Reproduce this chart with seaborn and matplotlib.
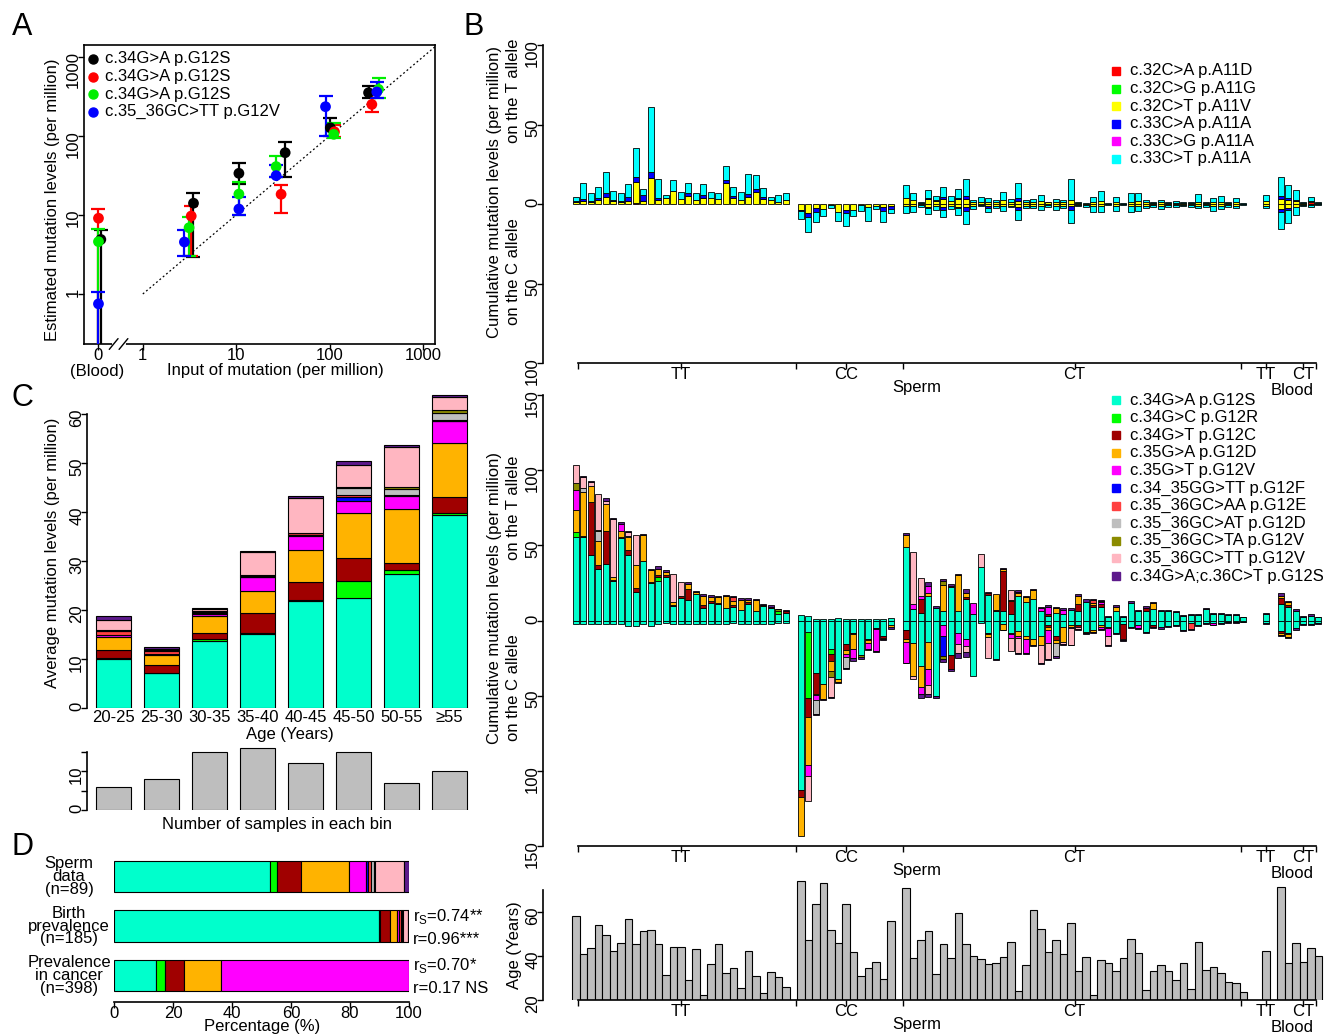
import numpy as np
import pandas as pd
import seaborn as sns
import matplotlib.pyplot as plt
from matplotlib.lines import Line2D
from matplotlib.ticker import NullLocator

# ---------------- Panel A: spike-in validation ----------------
a_labels = ["c.34G>A p.G12S", "c.34G>A p.G12S", "c.34G>A p.G12S", "c.35_36GC>TT p.G12V"]
a_colors = ["black", "red", "#00EE00", "blue"]
# input 0 = unspiked blood DNA
a_input = [
    [0, 3.49, 10.7, 33.5, 102, 262],
    [0, 3.3, 30.3, 113, 284],
    [0, 3.13, 10.7, 26.8, 111, 335],
    [0, 2.79, 10.7, 26.8, 90.6, 321],
]
a_est = [
    [4.9, 14.1, 33.7, 61.5, 127, 353],
    [9.1, 9.7, 18.3, 113, 251],
    [4.6, 6.9, 18.4, 41, 105, 390],
    [0.75, 4.55, 11.9, 31.5, 235, 361],
]
a_low = [
    [0.01, 2.97, 25, 30.6, 100, 300],
    [0.01, 3.0, 10.5, 98, 199],
    [0.01, 3.0, 10, 30, 95, 300],
    [0.01, 3.0, 10, 30, 100, 300],
]
a_high = [
    [6.5, 18.8, 45, 85, 170, 425],
    [11.8, 13, 24, 138, 340],
    [6.7, 9.4, 26, 56, 147, 550],
    [1.07, 6.45, 16.7, 43, 320, 480],
]

# ---------------- mutation classes ----------------
k12_keys = ["S", "R", "C", "D", "V", "F", "E", "AT", "TA", "TT", "SS"]
k12_labels = ["c.34G>A p.G12S", "c.34G>C p.G12R", "c.34G>T p.G12C", "c.35G>A p.G12D",
              "c.35G>T p.G12V", "c.34_35GG>TT p.G12F", "c.35_36GC>AA p.G12E",
              "c.35_36GC>AT p.G12D", "c.35_36GC>TA p.G12V", "c.35_36GC>TT p.G12V",
              "c.34G>A;c.36C>T p.G12S"]
k12_colors = ["#00FFCC", "#00FF00", "#A00000", "#FFB300", "#FF00FF", "#0000FF",
              "#FF4040", "#BEBEBE", "#8B8B00", "#FFB6C1", "#5D1A8B"]

k11_labels = ["c.32C>A p.A11D", "c.32C>G p.A11G", "c.32C>T p.A11V",
              "c.33C>A p.A11A", "c.33C>G p.A11A", "c.33C>T p.A11A"]
k11_colors = ["#FF0000", "#00FF00", "#FFFF00", "#0000FF", "#FF00FF", "#00FFFF"]
# codon 11 tuples: (c.32C>A, c.32C>T, c.33C>A, c.33C>T)
k11_cols = ["32A", "32T", "33A", "33T"]
k11_cols_colors = ["#FF0000", "#FFFF00", "#0000FF", "#00FFFF"]

# ---------------- Panel C / D ----------------
c_bins = ["20-25", "25-30", "30-35", "35-40", "40-45", "45-50", "50-55", "≥55"]
c_levels = [
    dict(S=10.0, R=0.15, C=1.75, D=2.6, V=0.3, F=0.05, E=0.8, AT=0.2, TA=0.1, TT=2.1, SS=0.75),
    dict(S=7.1, R=0.1, C=1.6, D=2.0, V=0.2, E=0.7, AT=0.1, TA=0.05, TT=0.2, SS=0.4),
    dict(S=13.7, R=0.3, C=1.3, D=3.4, V=0.4, F=0.05, E=0.2, AT=0.3, TA=0.1, TT=0.4, SS=0.2),
    dict(S=15.2, R=0.15, C=4.0, D=4.5, V=2.9, F=0.05, E=0.1, AT=0.15, TA=0.1, TT=4.6, SS=0.3),
    dict(S=21.9, R=0.1, C=3.8, D=6.4, V=3.0, F=0.05, E=0.4, AT=0.1, TA=0.05, TT=7.0, SS=0.4),
    dict(S=22.4, R=3.5, C=4.7, D=9.2, V=2.4, F=0.9, E=0.4, AT=1.4, TA=0.2, TT=4.4, SS=0.9),
    dict(S=27.3, R=0.8, C=1.5, D=11.0, V=2.7, F=0.1, E=0.1, AT=1.2, TA=0.4, TT=8.2, SS=0.3),
    dict(S=39.3, R=0.5, C=3.3, D=11.0, V=4.4, F=0.1, E=0.2, AT=1.4, TA=0.6, TT=2.6, SS=0.4),
]
c_counts = [6, 8, 15, 16, 12, 15, 7, 10]

d_groups = ["Sperm\ndata\n(n=89)", "Birth\nprevalence\n(n=185)", "Prevalence\nin cancer\n(n=398)"]
d_pct = [
    dict(S=52.9, R=2.5, C=8.0, D=16.4, V=5.7, F=0.5, E=1.2, AT=0.8, TA=0.5, TT=9.9, SS=1.6),
    dict(S=90.0, R=0.1, C=3.4, D=2.5, V=0.5, F=0.2, E=0.5, AT=0.3, TA=0.3, TT=2.0, SS=0.2),
    dict(S=14.4, R=3.0, C=6.4, D=12.6, V=63.6),
]
d_stats = [("", ""), (r"r$_\mathregular{S}$=0.74**", "r=0.96***"),
           (r"r$_\mathregular{S}$=0.70*", "r=0.17 NS")]

# ---------------- Panel B: per-sample data ----------------
age_tt = [58.2, 40.8, 43.8, 54.2, 49.4, 42.1, 45.8, 56.7, 45.5, 51.5, 51.7, 45.6, 31.4, 44.2,
          43.9, 29.2, 43.3, 22.1, 36.5, 45.3, 32.1, 34.7, 25.3, 42.4, 30.9, 23.0, 32.9, 30.3, 25.8]
age_cc = [74.2, 47.3, 63.5, 73.3, 51.7, 46.1, 63.5, 41.7, 30.9, 34.5, 37.4, 29.7, 56.1]
age_ct = [71.1, 38.9, 47.3, 51.5, 31.8, 45.6, 38.9, 59.7, 45.3, 40.2, 38.5, 36.5, 37.0, 39.7,
          46.4, 24.2, 36.1, 60.9, 52.1, 42.0, 47.1, 41.1, 55.0, 33.0, 39.5, 22.1, 38.2, 36.7,
          33.3, 38.9, 47.6, 41.5, 24.4, 33.0, 35.8, 33.3, 29.1, 37.0, 25.2, 46.2, 33.6, 35.2,
          32.1, 28.3, 27.9, 23.8]
age_blood = [42.3, 71.5, 36.7, 45.9, 37.4, 43.6, 40.0]  # 1 TT then 6 CT

# codon 12, T allele (up) and C allele (down)
tt12_up = [
    dict(S=55.5, R=3.6, D=14.1, V=13.7, TA=4.5, TT=12.1),
    dict(S=55.5, C=0.5, D=29.8, AT=2.2, TT=7.4, SS=0.8),
    dict(S=43.8, C=35.0, D=10.4, TT=2.8, SS=0.5),
    dict(S=34.5, C=2.7, D=15.5, AT=6.8, TA=0.5, TT=24.1),
    dict(S=37.8, C=21.5, D=18.4, TT=1.5, SS=2.2),
    dict(S=26.1, C=1.0, D=1.9, TT=38.7, SS=0.3),
    dict(S=54.9, C=0.5, D=4.3, V=4.5, SS=1.2),
    dict(S=43.4, C=3.3, D=8.8, AT=0.8, TT=2.3, SS=1.1),
    dict(S=18.8, C=2.9, D=15.5, TT=19.9),
    dict(S=39.8, D=17.3, SS=0.3),
    dict(S=25.0, C=0.8, D=7.6, SS=1.0),
    dict(S=26.5, R=2.3, C=1.7, D=3.8, SS=2.2),
    dict(S=29.0, C=1.0, D=2.5, SS=0.9),
    dict(S=9.5, C=0.5, D=2.2, TT=19.0),
    dict(S=15.0, C=1.6, TT=8.8),
    dict(S=13.9, C=7.1, D=3.6, SS=1.1),
    dict(S=17.3, D=1.6, SS=0.6),
    dict(S=8.4, C=1.6, D=6.6, SS=1.0),
    dict(S=11.7, C=1.1, D=2.9, SS=1.0),
    dict(S=11.1, C=0.8, D=3.6, SS=0.8),
    dict(S=8.4, D=7.8, SS=0.5),
    dict(S=8.8, C=1.8, D=2.7, E=2.4, SS=0.5),
    dict(S=7.3, D=6.6, SS=1.0),
    dict(S=11.3, C=1.0, D=1.6, SS=1.0),
    dict(S=6.6, D=7.3, SS=0.4),
    dict(S=9.5, TA=1.0, SS=0.6),
    dict(S=8.0, C=1.2, SS=0.8),
    dict(S=4.6, R=1.8, TA=1.0, SS=0.5),
    dict(S=5.1, C=1.0, SS=1.2),
]
tt12_down = [2.5, 2.5, 2.5, 2.5, 2.5, 2.5, 2.0, 3.5, 3.7, 2.0, 3.7, 2.0, 1.5, 2.0, 2.0,
             2.0, 2.0, 2.0, 2.0, 2.0, 2.0, 1.5, 2.0, 2.0, 2.0, 2.0, 2.0, 1.5, 1.5]
cc12_up = [3.5, 3.0, 1.0, 1.0, 1.0, 1.5, 1.0, 1.0, 1.0, 1.0, 1.0, 1.0, 1.8]
cc12_down = [
    dict(S=112.8, C=4.5, D=26.3),
    dict(S=7.5, R=43.8, C=12.7, D=32.0, V=7.3, TT=16.7),
    dict(S=34.7, C=14.0, D=1.1, V=3.3, AT=8.9, SS=1.0),
    dict(S=42.0, C=0.5, D=9.5, SS=0.9),
    dict(S=18.8, R=3.3, C=4.9, D=6.6, TA=3.8, TT=13.5, SS=0.5),
    dict(S=38.7, C=0.5, D=1.7, SS=0.8),
    dict(S=15.9, C=4.0, D=2.2, V=2.2, AT=7.1, SS=1.1),
    dict(S=8.2, C=0.5, D=10.5, V=6.0, SS=1.8),
    dict(S=23.2, TA=1.0, SS=1.7),
    dict(S=12.2, C=0.5, D=2.1, V=4.0, SS=1.1),
    dict(S=4.9, C=0.8, V=14.7, SS=0.5),
    dict(S=10.0, C=1.5, D=0.7, SS=0.8),
    dict(S=2.7, D=1.7, SS=1.1),
]
ct12_up = [
    dict(S=49, D=8, SS=1.1), dict(S=7.7, V=3.5, TT=34.4),
    dict(S=5, C=9, D=0.5, V=2, TT=11.5), dict(S=16.6, D=2, V=4.5, SS=2.3),
    dict(S=8.4, SS=1.1), dict(S=6.2, D=17.7, TA=2.2, SS=1.6),
    dict(S=22, C=1, SS=1), dict(S=6, D=24, SS=1),
    dict(S=14, C=1.5, D=3, SS=2.5), dict(S=4, V=7.7),
    dict(S=35.6, TT=8.9), dict(S=17, C=1, SS=0.8),
    dict(S=6, C=1, D=10.3), dict(S=6, C=27, D=1, SS=0.8),
    dict(S=4, C=8.8, D=1, TT=6.8), dict(S=16, D=2, V=1, SS=1),
    dict(S=12, D=3.6, SS=1), dict(S=14, D=6, SS=1),
    dict(S=6, V=2, SS=0.8), dict(S=3, C=1, V=5, SS=1),
    dict(S=5, D=3, SS=0.8), dict(S=4, V=3, SS=1),
    dict(S=7, SS=1), dict(S=6, C=5, D=5.5, SS=0.8),
    dict(S=12.5, SS=1.5), dict(S=9, C=1.5, D=1, E=2, SS=0.5),
    dict(S=9, C=2, V=1, E=1, SS=0.5), dict(S=2, SS=0.9),
    dict(S=6, D=3, SS=1), dict(S=2, SS=0.9),
    dict(S=11.5, SS=1.3), dict(S=6, SS=1.3),
    dict(S=6, C=2.5, SS=1), dict(S=7.5, D=4, SS=0.5),
    dict(S=6, SS=0.9), dict(S=6, SS=0.9),
    dict(S=5.5, SS=0.7), dict(S=3, SS=0.5),
    dict(S=3.5, SS=0.5), dict(S=3.5, SS=0.5),
    dict(S=7.5, SS=0.9), dict(S=4, SS=1),
    dict(S=4, SS=1), dict(S=3.5, SS=0.9),
    dict(S=3.5, SS=0.5), dict(S=2, SS=0.4),
]
ct12_down = [
    dict(S=6, C=6.6, D=1.8, V=13.7, SS=0.5), dict(S=14.8, D=22, TT=2.3),
    dict(S=30, D=14.5, V=4.5, SS=2.5), dict(S=14.4, D=17.7, V=11, TT=6, SS=2),
    dict(S=50, SS=1.8), dict(S=3.3, V=6.7, F=13.7, TA=2.2, SS=1.8),
    dict(S=23, C=9.3, SS=1.1), dict(S=8, V=7.7, TT=6, SS=3),
    dict(S=12, V=5, TT=4, SS=3), dict(S=37),
    dict(S=1.5), dict(S=8, C=1, D=2, TT=13.8),
    dict(S=25.9, SS=0.5), dict(S=2, D=4, SS=0.5),
    dict(S=8, D=1, V=2.5, TT=9), dict(S=7, D=3.5, V=1, TT=10, SS=1),
    dict(S=10, D=2, V=9.6, SS=1), dict(S=12.6, D=3.4, SS=1),
    dict(S=10, D=6, TT=12, SS=1), dict(S=3, C=1, D=2, V=9, TT=10.5, SS=1),
    dict(S=10, C=3, D=1.8, AT=9, SS=1), dict(S=4, D=10, TT=1.5, SS=0.5),
    dict(S=3, D=1, V=1, TT=11, SS=0.4), dict(S=3, C=1, TT=1.5, SS=0.5),
    dict(S=7.5, D=1, SS=0.8), dict(S=6, D=1.5, SS=0.7),
    dict(S=3, D=1, V=1.5, SS=0.5), dict(S=4, D=1, V=5, TT=6.5, SS=0.5),
    dict(S=8, SS=1.3), dict(S=2, C=10, TT=1.2, SS=0.5),
    dict(S=4, SS=0.9), dict(S=3, V=2, SS=0.5),
    dict(S=7.5, SS=1.1), dict(S=3, C=1, SS=0.9),
    dict(S=4.5, SS=1), dict(S=3.5, SS=0.7),
    dict(S=3, SS=0.8), dict(S=6, SS=1),
    dict(S=1.5, E=4, SS=0.5), dict(S=3, SS=0.8),
    dict(S=1.5, SS=0.5), dict(S=1.5, V=1.3, SS=0.5),
    dict(S=1.5, SS=0.5), dict(S=1, SS=0.5),
    dict(S=1, SS=0.5), dict(S=0.8, SS=0.3),
]
blood12_up = [dict(S=4, SS=1), dict(S=11, C=4, D=1.5, SS=1.9), dict(S=9, C=1.5, D=2, SS=0.8),
              dict(S=6.5, SS=1.2), dict(S=2.4, SS=0.5), dict(S=3.2, SS=0.8), dict(S=2, SS=0.4)]
blood12_down = [dict(S=1.5, SS=0.5), dict(S=7, C=1.2, D=1.2, SS=0.6), dict(S=8, C=1, D=2, SS=0.5),
                dict(S=5, SS=1), dict(S=2.2, SS=0.5), dict(S=2.2, SS=0.5), dict(S=1.6, SS=0.4)]

# codon 11 (c.32C>A, c.32C>T, c.33C>A, c.33C>T)
tt11_up = [
    (0, 1.5, 0.5, 2.6), (0, 2.0, 1.0, 10.4), (0, 1.5, 0.5, 5.1), (0, 2.5, 1.0, 7.4),
    (0, 4.6, 2.1, 13.6), (0, 2.0, 0.5, 5.9), (0, 1.5, 0.5, 4.7), (0, 2.0, 2.6, 8.0),
    (0.5, 13.4, 3.3, 17.8), (0, 2.0, 3.7, 3.5), (0, 16.1, 4.2, 40.5), (0, 2.5, 1.5, 11.5),
    (0, 3.6, 0, 2.1), (0, 8.4, 0, 6.7), (0, 3.1, 0, 4.2), (0, 5.0, 1.7, 6.3),
    (0, 2.5, 0, 4.2), (0, 3.6, 2.1, 6.9), (0, 3.6, 0, 4.2), (0, 2.9, 0, 3.8),
    (0, 13.4, 1.7, 9.0), (0, 3.6, 1.4, 5.5), (0, 2.5, 0, 5.3), (0, 4.6, 1.7, 12.6),
    (0, 7.8, 1.4, 9.0), (0, 3.1, 1.5, 5.3), (0, 2.5, 0, 2.1), (0, 1.5, 0, 4.2),
    (0, 2.5, 0, 4.2),
]
cc11_down = [
    (0, 3.8, 0.5, 5.3), (0, 5.9, 2.1, 9.8), (0, 2.7, 2.1, 6.7), (0, 3.4, 0, 4.1),
    (0, 0.5, 0, 2.2), (0, 4.8, 0, 5.9), (0, 3.8, 2.1, 7.7), (0, 3.8, 0, 3.7),
    (0, 0.5, 0, 3.7), (0, 2.1, 0, 8.6), (0, 1.0, 0, 2.4), (0, 2.1, 2.1, 7.3),
    (0, 1.5, 1.5, 2.9),
]
ct11_up = [
    (0, 3.5, 0, 8.5), (0, 2.5, 0, 4.6), (0, 0.8, 0, 0.7), (0, 3, 0.5, 5.3), (0, 2, 0.5, 2.5),
    (0, 3, 1.5, 6), (0, 2, 0, 3), (0, 3, 0.5, 5.7), (0, 3, 2, 10.5), (0, 1.5, 0, 1),
    (0, 1, 0.5, 3.1), (0, 1.5, 0, 2.1), (0, 1, 0, 1.5), (0, 2.5, 0, 5.3), (0, 1.5, 0, 1.4),
    (0, 2, 2, 9), (0, 1.5, 0, 1), (0, 1.5, 0, 1.4), (0, 2, 0, 3.7), (0, 1, 0, 0.5),
    (0, 1.5, 0, 1.4), (0, 1.5, 0, 1), (0, 2.5, 0, 13), (0, 0.5, 0, 1), (0, 0.3, 0, 0.5),
    (0, 1.5, 0, 3.1), (0, 2, 0, 6.4), (0, 0.3, 0, 0.5), (0, 1.5, 0, 3.1), (0, 0, 0, 0.4),
    (0, 1.5, 0, 5.2), (0, 2, 0, 4.7), (0, 1, 0, 1.5), (0, 0.5, 0, 1), (0, 1, 0, 1.5),
    (0, 0.5, 0, 1), (0, 0.5, 0, 1.6), (0, 0.5, 0, 1), (0, 0.5, 0, 1), (0, 1.5, 0, 4.8),
    (0, 0.5, 0, 1), (0, 1, 0, 2.6), (0, 1.5, 0, 3.5), (0, 0.5, 0, 1), (0, 1, 0, 2.6),
    (0, 0.3, 0, 0.5),
]
ct11_down = [
    (0, 1.5, 0, 4), (0, 1.5, 0, 3.3), (0, 0.7, 0, 1), (0, 2, 0.5, 4), (0, 1.5, 0, 2.3),
    (0, 2, 1.5, 4.5), (0, 1.5, 0, 1.9), (0, 2, 0.5, 4.4), (0, 2, 2.5, 8.1), (0, 1, 0, 2.1),
    (0, 0.5, 0, 0.8), (0, 1.5, 1, 2.3), (0, 1, 0, 1.7), (0, 1.5, 0, 2.7), (0, 1, 0, 1.1),
    (0, 2, 2, 6.1), (0, 1, 0, 1.7), (0, 1, 0, 1.7), (0, 1.5, 0, 2.3), (0, 0.7, 0, 1),
    (0, 1.5, 0, 2.3), (0, 1, 0, 1.7), (0, 1.5, 2, 8.7), (0, 0.5, 0, 0.8), (0, 0.5, 0, 1.2),
    (0, 1.5, 0, 3.3), (0, 1.5, 0, 3.3), (0, 0.3, 0, 0.3), (0, 1.5, 0, 2.7), (0, 0.3, 0, 0.3),
    (0, 1.5, 0, 3.3), (0, 1, 0, 3.2), (0, 1, 0, 1.7), (0, 0.5, 0, 1.2), (0, 1, 0, 2.4),
    (0, 0.5, 0, 1.2), (0, 0.5, 0, 1.2), (0, 0.5, 0, 0.8), (0, 0.5, 0, 1.2), (0, 1, 0, 1.7),
    (0, 0.5, 0, 1.2), (0, 1, 0, 3.2), (0, 1, 0, 2.4), (0, 0.5, 0, 1.2), (0, 1, 0, 1.7),
    (0, 0.3, 0, 0.5),
]
blood11_up = [(0, 2, 0, 3.7), (0, 3, 2, 11.8), (0, 2.5, 1.5, 8), (0, 2, 0.5, 6.3),
              (0, 0.5, 0, 1), (1.5, 0.5, 0, 2.6), (0, 0.5, 0, 1)]
blood11_down = [(0, 1, 0, 1.7), (0, 3, 2, 10.9), (0, 2.5, 1.5, 7.7), (0, 2, 0, 4.9),
                (0, 0.5, 0, 0.8), (0, 0.5, 0, 1.2), (0, 0.3, 0, 0.5)]

# ---------------- style ----------------
sns.set_style("ticks", {"axes.edgecolor": "black", "text.color": "black",
                        "xtick.color": "black", "ytick.color": "black",
                        "axes.labelcolor": "black"})
plt.rcParams["font.family"] = ["Liberation Sans", "DejaVu Sans"]
plt.rcParams["font.size"] = 12
plt.rcParams["mathtext.fontset"] = "custom"
plt.rcParams["mathtext.rm"] = "Liberation Sans"
plt.rcParams["axes.linewidth"] = 1.2
plt.rcParams["xtick.major.width"] = 1.0
plt.rcParams["ytick.major.width"] = 1.0
plt.rcParams["xtick.minor.width"] = 1.0
plt.rcParams["axes.facecolor"] = "none"

W, H = 1331, 1034
fig = plt.figure(figsize=(W / 100, H / 100), dpi=100)
TL, YPAD, XPAD = 4.0, -2.0, -1.3   # tick length / label pads (points)


def add_ax(x0, y0, x1, y1):
    ax = fig.add_axes([x0 / W, 1 - y1 / H, (x1 - x0) / W, (y1 - y0) / H])
    ax.patch.set_visible(False)
    return ax


def ftext(x, y, s, **kw):
    kw.setdefault("ha", "center")
    kw.setdefault("va", "center")
    fig.text(x / W, 1 - y / H, s, **kw)


def fmarker(x, y, **kw):
    fig.add_artist(Line2D([x / W], [1 - y / H], transform=fig.transFigure, **kw))


def yaxis_style(ax):
    ax.tick_params(axis="y", labelrotation=90, length=TL, pad=YPAD, labelsize=12)


def draw_stack(ax, xs, table, colors, sign, width=0.86, lw=0.6):
    base = np.zeros(len(xs))
    for col, colr in zip(table.columns, colors):
        v = table[col].to_numpy(float)
        m = v > 0
        if m.any():
            ax.bar(xs[m], sign * v[m], bottom=sign * base[m], width=width,
                   color=colr, edgecolor="black", linewidth=lw)
        base = base + v


def k12_table(rows):
    return pd.DataFrame(rows, columns=k12_keys).fillna(0.0)


# ---------------- Panel A ----------------
BLOOD_X = 0.335
axA = add_ax(84, 45, 435, 344)
axA.set_xscale("log")
axA.set_yscale("log")
rows = []
for k in range(4):
    for x, y, lo, hi in zip(a_input[k], a_est[k], a_low[k], a_high[k]):
        rows.append(dict(series=k, x=x if x > 0 else BLOOD_X * (1.06 if k == 0 else 1.0),
                         y=y, lo=lo, hi=hi))
dfA = pd.DataFrame(rows)
axA.plot([1, 3000], [1, 3000], color="black", lw=0.9, ls=(0, (1.5, 2.0)), zorder=1)
for k, g in dfA.groupby("series"):
    axA.errorbar(g.x, g.y, yerr=[g.y - g.lo, g.hi - g.y], fmt="none", ecolor=a_colors[k],
                 elinewidth=1.6, capsize=5, capthick=1.6, zorder=2 + k)
sns.scatterplot(data=dfA, x="x", y="y", hue="series", palette=a_colors, s=60,
                edgecolor="none", legend=False, ax=axA, zorder=10)
axA.set_xlim(10 ** -0.63, 10 ** 3.13)
axA.set_ylim(10 ** -0.633, 10 ** 3.152)
axA.set_xticks([BLOOD_X, 1, 10, 100, 1000], ["0", "1", "10", "100", "1000"])
axA.set_yticks([1, 10, 100, 1000], ["1", "10", "100", "1000"])
axA.xaxis.set_minor_locator(NullLocator())
axA.yaxis.set_minor_locator(NullLocator())
yaxis_style(axA)
axA.tick_params(axis="x", length=TL, pad=XPAD, labelsize=12)
axA.set_xlabel("")
axA.set_ylabel("")
# axis break
axA.plot([0.085, 0.115], [0, 0], color="white", lw=3, transform=axA.transAxes,
         clip_on=False, zorder=20)
for x0 in (0.072, 0.100):
    axA.plot([x0, x0 + 0.025], [-0.018, 0.018], color="black", lw=1.0,
             transform=axA.transAxes, clip_on=False, zorder=21)
ftext(97, 371, "(Blood)")
ftext(275, 370, "Input of mutation (per million)")
ftext(52, 200, "Estimated mutation levels (per million)", rotation=90)
for k, lab in enumerate(a_labels):
    fmarker(93, 59 + 17.5 * k, marker="o", color=a_colors[k], markersize=6.5, linestyle="none")
    ftext(105, 59 + 17.5 * k, lab, ha="left")

# ---------------- sample positions for panel B ----------------
n_tt, n_cc, n_ct = len(age_tt), len(age_cc), len(age_ct)
x_tt = 0.5 + np.arange(n_tt)
x_cc = x_tt[-1] + 2 + np.arange(n_cc)
x_ct = x_cc[-1] + 2 + np.arange(n_ct)
x_btt = np.array([x_ct[-1] + 3])
x_bct = x_btt[-1] + 2 + np.arange(len(age_blood) - 1)
x_all = np.concatenate([x_tt, x_cc, x_ct, x_btt, x_bct])
XLIM = (-3.87, 100.4)
centers = [x_tt.mean(), x_cc.mean(), x_ct.mean(), x_btt.mean(), x_bct.mean() + 0.5]
bounds = [x_tt[0] + 0.3, x_cc[0] - 0.6, x_ct[0] - 0.4, x_ct[-1] - 0.3, x_bct[-1] - 0.3]
sperm_mid = (bounds[0] + bounds[3]) / 2 + 1
blood_mid = (x_btt[0] + x_bct[-1]) / 2


def group_axis(ax):
    ax.set_xlim(XLIM)
    ax.set_xticks(centers, ["TT", "CC", "CT", "TT", "CT"])
    ax.set_xticks(bounds, minor=True)
    ax.tick_params(axis="x", which="both", length=TL, pad=XPAD, labelsize=12)
    ax.spines["bottom"].set_bounds(bounds[0], bounds[-1])
    for sp in ("top", "right"):
        ax.spines[sp].set_visible(False)
    ax.annotate("Sperm", (sperm_mid, 0), xycoords=("data", "axes fraction"),
                xytext=(0, -17.8), textcoords="offset points", ha="center", va="center")
    ax.annotate("Blood", (blood_mid, 0), xycoords=("data", "axes fraction"),
                xytext=(0, -19.8), textcoords="offset points", ha="center", va="center")


# ---------------- Panel B upper (codon 11) ----------------
axB1 = add_ax(543, 45, 1325, 363)
zeros11 = [(0, 0, 0, 0)]
up11 = pd.DataFrame(tt11_up + zeros11 * n_cc + ct11_up + blood11_up, columns=k11_cols)
dn11 = pd.DataFrame(zeros11 * n_tt + cc11_down + ct11_down + blood11_down, columns=k11_cols)
draw_stack(axB1, x_all, up11, k11_cols_colors, 1)
draw_stack(axB1, x_all, dn11, k11_cols_colors, -1)
axB1.set_ylim(-100, 100)
axB1.set_yticks([-100, -50, 0, 50, 100], ["100", "50", "0", "50", "100"])
axB1.spines["left"].set_bounds(-100, 100)
yaxis_style(axB1)
group_axis(axB1)
ftext(495, 192, "Cumulative mutation levels (per million)", rotation=90)
ftext(514, 91, "on the T allele", rotation=90)
ftext(514, 272, "on the C allele", rotation=90)
for k, lab in enumerate(k11_labels):
    fmarker(1116, 71 + 17.6 * k, marker="s", color=k11_colors[k], markersize=5.5, linestyle="none")
    ftext(1130, 71 + 17.6 * k, lab, ha="left")

# ---------------- Panel B lower (codon 12) ----------------
axB2 = add_ax(543, 395, 1325, 846)
up12 = k12_table(tt12_up + [dict(S=v) for v in cc12_up] + ct12_up + blood12_up)
dn12 = k12_table([dict(S=v) for v in tt12_down] + cc12_down + ct12_down + blood12_down)
draw_stack(axB2, x_all, up12, k12_colors, 1)
draw_stack(axB2, x_all, dn12, k12_colors, -1)
axB2.set_ylim(-150, 150)
axB2.set_yticks([-150, -100, -50, 0, 50, 100, 150],
                ["150", "100", "50", "0", "50", "100", "150"])
axB2.spines["left"].set_bounds(-150, 150)
yaxis_style(axB2)
group_axis(axB2)
ftext(495, 598, "Cumulative mutation levels (per million)", rotation=90)
ftext(514, 508, "on the T allele", rotation=90)
ftext(514, 688, "on the C allele", rotation=90)
for k, lab in enumerate(k12_labels):
    fmarker(1116, 400 + 17.6 * k, marker="s", color=k12_colors[k], markersize=5.5, linestyle="none")
    ftext(1130, 400 + 17.6 * k, lab, ha="left")

# ---------------- Panel B ages ----------------
axG = add_ax(543, 870, 1325, 1000)
ages = np.array(age_tt + age_cc + age_ct + age_blood)
axG.bar(x_all, ages, width=1.0, color="#BEBEBE", edgecolor="black", linewidth=0.8)
axG.set_ylim(20, 79.1)
axG.set_yticks([20, 40, 60], ["20", "40", "60"])
axG.spines["left"].set_bounds(20, 70)
yaxis_style(axG)
group_axis(axG)
ftext(514, 945, "Age (Years)", rotation=90)

# ---------------- Panel C ----------------
axC = add_ax(87, 390, 475, 708)
c_df = k12_table(c_levels)
draw_stack(axC, np.arange(len(c_bins)).astype(float), c_df, k12_colors, 1, width=0.73, lw=0.8)
axC.set_xlim(-0.55, 7.53)
axC.set_ylim(0, 64.9)
axC.set_yticks(range(0, 61, 10), [str(v) for v in range(0, 61, 10)])
axC.spines["left"].set_bounds(0, 60)
for sp in ("top", "right", "bottom"):
    axC.spines[sp].set_visible(False)
axC.set_xticks(range(len(c_bins)), c_bins)
axC.tick_params(axis="x", length=0, pad=1.5, labelsize=12)
yaxis_style(axC)
ftext(290, 735, "Age (Years)")
ftext(53, 553, "Average mutation levels (per million)", rotation=90)

axN = add_ax(87, 745, 475, 810)
sns.barplot(x=c_bins, y=c_counts, ax=axN, color="#BEBEBE", saturation=1,
            edgecolor="black", linewidth=0.8, width=0.73)
axN.set_xlim(-0.55, 7.53)
axN.set_ylim(0, 16.67)
axN.set_yticks([0, 5, 10, 15], ["0", "", "10", ""])
axN.spines["left"].set_bounds(0, 15)
for sp in ("top", "right", "bottom"):
    axN.spines[sp].set_visible(False)
axN.set_xticks([])
axN.set_xlabel("")
axN.set_ylabel("")
yaxis_style(axN)
ftext(277, 825, "Number of samples in each bin")

# ---------------- Panel D ----------------
axD = add_ax(114, 850, 409, 1002)
d_df = k12_table(d_pct)
ypos = np.arange(len(d_groups), dtype=float)
left = np.zeros(len(d_groups))
for key, colr in zip(k12_keys, k12_colors):
    v = d_df[key].to_numpy(float)
    m = v > 0
    axD.barh(ypos[m], v[m], left=left[m], height=0.63, color=colr,
             edgecolor="black", linewidth=0.8)
    left = left + v
axD.set_xlim(0, 100)
axD.set_ylim(2.535, -0.535)
axD.set_yticks([])
axD.set_xticks(range(0, 101, 20), [str(v) for v in range(0, 101, 20)])
axD.tick_params(axis="x", length=TL, pad=XPAD, labelsize=12)
for sp in ("top", "right", "left"):
    axD.spines[sp].set_visible(False)
ftext(262, 1026, "Percentage (%)")
for i, (g, (s1, s2)) in enumerate(zip(d_groups, d_stats)):
    yc = 876.5 + 49.5 * i
    ftext(69, yc, g, linespacing=0.8)
    if s1:
        ftext(413, yc - 10, s1, ha="left")
        ftext(413, yc + 13, s2, ha="left")

# ---------------- panel letters ----------------
for lab, (x, y) in {"A": (22, 27), "B": (474, 27), "C": (22, 398), "D": (22, 847)}.items():
    ftext(x, y, lab, fontsize=22)

fig.savefig("out.png", dpi=100)
